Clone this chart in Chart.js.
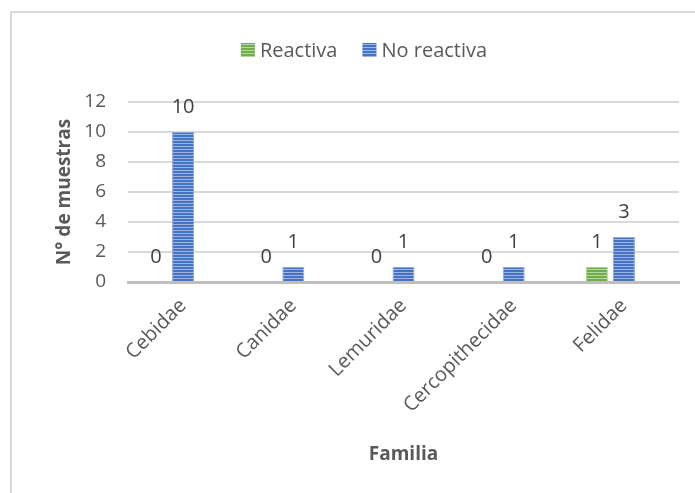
<!DOCTYPE html>
<html>
<head>
<meta charset="utf-8">
<script src="https://cdn.jsdelivr.net/npm/chart.js@4/dist/chart.umd.min.js"></script>
<style>
  html, body { margin: 0; padding: 0; background: #fff; }
  #wrap { position: relative; width: 695px; height: 493px; overflow: hidden; }
  #frame { position: absolute; left: 10px; top: 11px; width: 720px; height: 520px;
           border: 2px solid #d9d9d9; box-sizing: border-box; }
  #chart { position: absolute; left: 0; top: 0; }
</style>
</head>
<body>
<div id="wrap">
  <div id="frame"></div>
  <canvas id="chart" width="695" height="493"></canvas>
</div>
<script>
// Datos del gráfico
const familias = ['Cebidae', 'Canidae', 'Lemuridae', 'Cercopithecidae', 'Felidae'];
const reactiva = [0, 0, 0, 0, 1];
const noReactiva = [10, 1, 1, 1, 3];
const yTicks = [0, 2, 4, 6, 8, 10, 12];

// Rayas horizontales como en Excel
function stripes(dark, light) {
  const c = document.createElement('canvas');
  c.width = 4; c.height = 3;
  const g = c.getContext('2d');
  g.fillStyle = light; g.fillRect(0, 0, 4, 3);
  g.fillStyle = dark; g.fillRect(0, 0, 4, 2);
  return g.createPattern(c, 'repeat');
}

const greenFill = stripes('#70ad47', '#b5d89c');
const blueFill = stripes('#4472c4', '#9fb6e4');
const textColor = '#595959';
const FONT = '"Open Sans", "DejaVu Sans", sans-serif';

// Etiquetas de datos sobre las barras
const dataLabels = {
  id: 'dataLabels',
  afterDatasetsDraw(chart) {
    const ctx = chart.ctx;
    ctx.save();
    ctx.font = '20px ' + FONT;
    ctx.fillStyle = '#404040';
    ctx.textAlign = 'center';
    ctx.textBaseline = 'middle';
    [0, 1].forEach(i => {
      const meta = chart.getDatasetMeta(i);
      meta.data.forEach((bar, j) => {
        const v = chart.data.datasets[i].data[j];
        ctx.fillText(String(v), bar.x, bar.y - 25);
      });
    });
    ctx.restore();
  }
};

// Leyenda dibujada a mano (arriba, centrada)
const manualLegend = {
  id: 'manualLegend',
  afterDraw(chart) {
    const ctx = chart.ctx;
    ctx.save();
    ctx.font = '20px ' + FONT;
    ctx.textBaseline = 'middle';
    ctx.textAlign = 'left';
    const items = chart.data.datasets.slice(0, 2);
    const widths = items.map(d => 14 + 5 + ctx.measureText(d.label).width);
    const total = widths.reduce((a, b) => a + b, 0) + 25;
    let x = 364 - total / 2;
    const cy = 50;
    items.forEach((d, i) => {
      ctx.fillStyle = d.backgroundColor;
      ctx.fillRect(x, cy - 7, 14, 14);
      ctx.fillStyle = textColor;
      ctx.fillText(d.label, x + 19, cy + 1);
      x += widths[i] + 25;
    });
    ctx.restore();
  }
};

new Chart(document.getElementById('chart').getContext('2d'), {
  type: 'bar',
  data: {
    labels: familias,
    datasets: [
      { label: 'Reactiva', data: reactiva, backgroundColor: greenFill,
        borderColor: '#a9d18e', borderWidth: 1 },
      { label: 'No reactiva', data: noReactiva, backgroundColor: blueFill,
        borderColor: '#8faadc', borderWidth: 1 },
      { label: '', data: familias.map(() => null), backgroundColor: 'transparent' }
    ]
  },
  options: {
    responsive: false,
    animation: false,
    layout: { padding: { top: 102, left: 0, right: 16, bottom: 0 } },
    datasets: { bar: { categoryPercentage: 0.736, barPercentage: 0.815 } },
    plugins: {
      legend: { display: false },
      tooltip: { enabled: false }
    },
    scales: {
      x: {
        grid: { display: false },
        border: { color: '#bfbfbf', width: 3 },
        ticks: {
          color: textColor,
          font: { family: FONT, size: 20 },
          minRotation: 45,
          maxRotation: 45,
          padding: 4
        },
        title: {
          display: true,
          text: 'Familia',
          color: textColor,
          font: { family: FONT, size: 19, weight: 'bold' },
          padding: { top: 0, bottom: 27 }
        },
        afterFit(scale) { scale.height = 211; }
      },
      y: {
        min: 0,
        max: 12,
        afterBuildTicks(scale) { scale.ticks = yTicks.map(v => ({ value: v })); },
        grid: {
          color: ctx => ctx.tick && ctx.tick.value === 0 ? 'rgba(0,0,0,0)' : '#d9d9d9',
          lineWidth: 2,
          drawTicks: false
        },
        border: { display: false },
        ticks: {
          color: textColor,
          font: { family: FONT, size: 19 },
          padding: 22
        },
        title: {
          display: true,
          text: 'N° de muestras',
          color: textColor,
          font: { family: FONT, size: 19, weight: 'bold' },
          padding: { top: 53.6, bottom: 0 }
        },
        afterFit(scale) { scale.width = 128; }
      }
    }
  },
  plugins: [dataLabels, manualLegend]
});
</script>
</body>
</html>
